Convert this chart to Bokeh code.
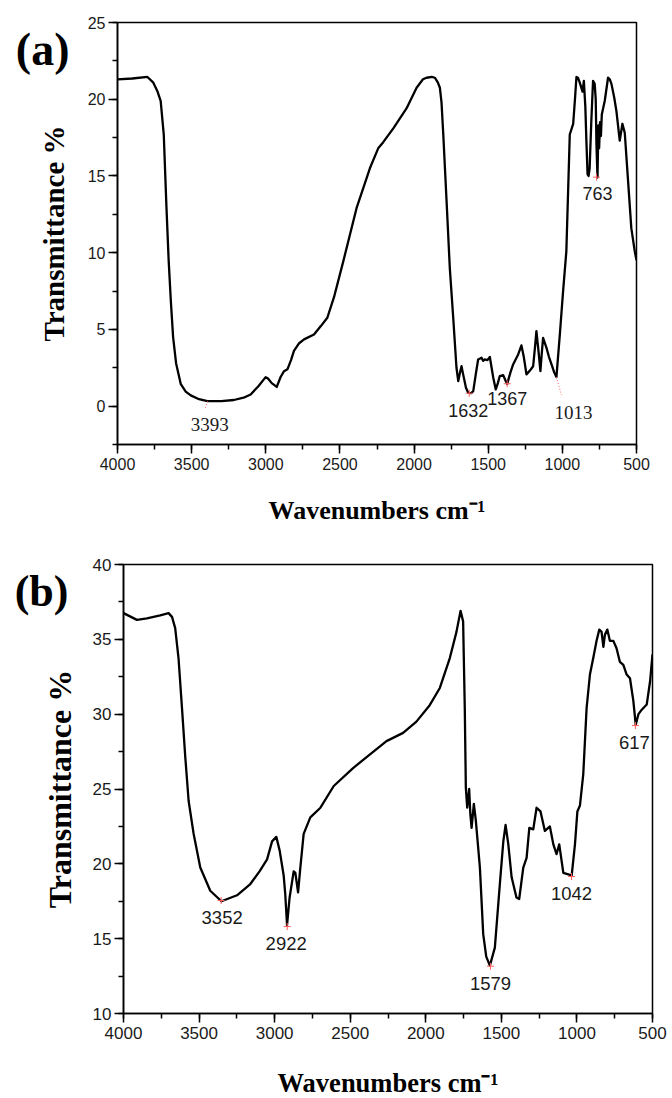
from bokeh.plotting import figure
from bokeh.layouts import column, row
from bokeh.models import Range1d, SingleIntervalTicker, FixedTicker, LinearAxis, Label
from bokeh.embed import file_html
from bokeh.resources import INLINE

# ---------------- data: panel (a) ----------------
wn_a = [4000, 3900, 3798, 3760, 3730, 3709, 3688, 3670, 3655, 3640, 3625, 3605, 3573, 3540,
        3506, 3450, 3394, 3300, 3215, 3150, 3102, 3050, 3001, 2985, 2960, 2926, 2900, 2877,
        2854, 2830, 2810, 2775, 2742, 2675, 2630, 2585, 2540, 2477, 2388, 2298, 2242, 2208,
        2140, 2051, 1983, 1940, 1916, 1880, 1860, 1840, 1826, 1815, 1803, 1781, 1759, 1736,
        1714, 1702, 1690, 1680, 1669, 1650, 1635, 1615, 1601, 1585, 1568, 1555, 1545, 1535,
        1523, 1505, 1489, 1466, 1449, 1435, 1422, 1399, 1385, 1372, 1350, 1332, 1298, 1276,
        1260, 1242, 1220, 1197, 1185, 1175, 1160, 1148, 1140, 1130, 1107, 1090, 1073, 1055,
        1040, 1017, 995, 973, 950, 927, 915, 905, 895, 883, 864, 855, 845, 838, 830, 823,
        816, 805, 793, 782, 775, 770, 763, 757, 752, 746, 740, 734, 714, 692, 680, 669, 650,
        635, 613, 595, 579, 557, 535, 512, 500]
T_a = [21.3, 21.35, 21.45, 21.1, 20.5, 19.9, 17.7, 13.0, 9.5, 6.8, 4.5, 2.8, 1.43, 0.95,
       0.7, 0.45, 0.33, 0.33, 0.4, 0.55, 0.76, 1.3, 1.89, 1.8, 1.5, 1.25, 1.9, 2.28,
       2.4, 3.0, 3.6, 4.1, 4.35, 4.67, 5.2, 5.76, 7.1, 9.45, 12.9, 15.5, 16.8, 17.2,
       18.1, 19.4, 20.75, 21.3, 21.4, 21.45, 21.4, 21.1, 20.75, 19.8, 17.7, 13.4, 9.0, 5.76,
       2.5, 1.63, 2.2, 2.6, 2.07, 1.2, 0.87, 0.85, 0.98, 2.0, 3.04, 3.1, 3.15, 2.95,
       3.04, 3.0, 3.2, 1.85, 1.09, 1.5, 1.96, 2.02, 1.7, 1.45, 2.2, 2.72, 3.37, 3.96,
       3.2, 2.07, 2.3, 2.6, 3.8, 4.89, 3.5, 2.28, 3.3, 4.45, 3.8, 3.2, 2.72, 2.2,
       1.89, 4.67, 7.5, 10.1, 17.7, 18.4, 20.0, 21.45, 21.4, 21.1, 20.5, 21.2, 19.5, 17.3, 15.1, 15.0,
       15.5, 18.5, 21.2, 21.0, 20.0, 17.0, 14.9, 18.3, 16.8, 18.5, 17.6, 19.0, 19.9, 21.4, 21.3, 21.0, 20.1,
       19.2, 17.3, 18.4, 17.8, 14.7, 11.6, 10.1, 9.5]

peak_lbl_a = ["3393", "1632", "1367", "1013", "763"]
peak_wn_a = [3391, 1628, 1372, 1040, 770]
peak_T_a = [0.32, 0.84, 1.46, 1.89, 14.92]

# ---------------- data: panel (b) ----------------
wn_b = [4000, 3911, 3845, 3757, 3702, 3679, 3658, 3636, 3613, 3591, 3569, 3536, 3492, 3426,
        3352, 3249, 3161, 3100, 3050, 3017, 2989, 2967, 2940, 2930, 2918, 2901, 2874, 2863,
        2845, 2830, 2808, 2764, 2697, 2609, 2481, 2371, 2260, 2150, 2062, 1974, 1907, 1841,
        1797, 1770, 1753, 1742, 1735, 1726, 1713, 1705, 1697, 1682, 1669, 1642, 1620, 1600,
        1576, 1543, 1510, 1487, 1472, 1454, 1432, 1400, 1382, 1355, 1333, 1315, 1289, 1267,
        1241, 1212, 1179, 1156, 1135, 1117, 1090, 1057, 1035, 1013, 997, 980, 958, 936, 914,
        892, 870, 852, 837, 825, 815, 799, 782, 759, 738, 716, 693, 671, 649, 627, 611, 593,
        571, 538, 516, 500]
T_b = [36.75, 36.3, 36.4, 36.6, 36.75, 36.5, 35.75, 33.75, 30.4, 27.1, 24.2, 22.0, 19.75, 18.2,
       17.5, 17.9, 18.65, 19.5, 20.3, 21.5, 21.8, 20.9, 19.2, 18.0, 15.9, 17.75, 19.5, 19.4,
       18.1, 19.75, 22.0, 23.1, 23.75, 25.2, 26.4, 27.3, 28.2, 28.75, 29.5, 30.6, 31.75, 33.75,
       35.5, 36.9, 36.2, 30.4, 25.1, 23.75, 25.0, 23.3, 22.4, 24.0, 22.9, 19.75, 15.3, 13.8,
       13.2, 14.4, 18.65, 21.5, 22.6, 21.3, 19.1, 17.75, 17.65, 19.75, 20.4, 22.4, 22.3, 23.75,
       23.5, 22.2, 22.5, 21.3, 20.65, 21.3, 19.4, 19.3, 19.2, 21.3, 23.5, 23.9, 26.0, 30.4, 32.65,
       33.75, 34.9, 35.65, 35.5, 34.5, 35.3, 35.65, 34.9, 34.9, 34.4, 33.5, 33.3, 32.65, 32.4, 30.9, 29.3, 30.0,
       30.3, 30.65, 32.2, 34.0]

peak_lbl_b = ["3352", "2922", "1579", "1042", "617"]
peak_wn_b = [3354, 2917, 1572, 1036, 613]
peak_T_b = [17.55, 15.81, 13.16, 19.15, 29.24]

x_ticks_interval = 500

SERIF = "Liberation Serif"
SANS = "Liberation Sans"
RED = "#ff5f5f"


def make_panel(xr, yr, y_interval, fw, fh, bl, br, bt, bb, tick_px, ylab_px, ystand, xstand,
               xlab_px, tag, tag_at, tag_px, tag_standoff):
    p = figure(frame_width=fw, frame_height=fh, min_border_left=bl, min_border_right=br,
               min_border_top=bt, min_border_bottom=bb,
               x_range=Range1d(*xr), y_range=Range1d(*yr),
               output_backend="svg", toolbar_location=None)
    p.grid.visible = False
    p.outline_line_color = "black"
    p.outline_line_width = 1.5
    p.background_fill_color = "white"
    p.border_fill_color = "white"
    p.xaxis.ticker = SingleIntervalTicker(interval=x_ticks_interval, num_minor_ticks=2)
    p.yaxis.ticker = SingleIntervalTicker(interval=y_interval, num_minor_ticks=2)
    for ax in (p.xaxis, p.yaxis):
        ax.axis_line_width = 1.6
        ax.axis_line_color = "black"
        ax.major_tick_in = 0
        ax.major_tick_out = 9
        ax.minor_tick_in = 0
        ax.minor_tick_out = 5
        ax.major_tick_line_width = 1.5
        ax.minor_tick_line_width = 1.5
        ax.major_label_text_font = SANS
        ax.major_label_text_font_size = tick_px
        ax.major_label_text_color = "#1a1a1a"
        ax.axis_label_text_font = SERIF
        ax.axis_label_text_font_style = "bold"
        ax.axis_label_text_color = "black"
    p.xaxis.major_label_standoff = 4
    p.yaxis.major_label_standoff = 3
    p.xaxis.axis_label = "Wavenumbers cm\u207b\u00b9"
    p.xaxis.axis_label_text_font_size = xlab_px
    p.xaxis.axis_label_standoff = xstand
    p.yaxis.axis_label = "Transmittance %"
    p.yaxis.axis_label_text_font_size = ylab_px
    p.yaxis.axis_label_standoff = ystand

    # panel tag "(a)"/"(b)" drawn as the single label of an outer, line-less axis
    tag_axis = LinearAxis(ticker=FixedTicker(ticks=[tag_at], minor_ticks=[]),
                          major_label_overrides={tag_at: tag},
                          axis_line_color=None, major_tick_line_color=None,
                          minor_tick_line_color=None, major_tick_out=0, major_tick_in=0,
                          minor_tick_out=0, minor_tick_in=0,
                          major_label_standoff=tag_standoff,
                          major_label_orientation="horizontal",
                          major_label_text_font=SERIF, major_label_text_font_style="bold",
                          major_label_text_font_size=tag_px, major_label_text_color="black")
    p.add_layout(tag_axis, "left")
    return p


def add_text(p, x, y, text, font, size, xo=0, yo=0):
    p.add_layout(Label(x=x, y=y, text=text, text_font=font, text_font_size=size,
                       text_align="center", text_baseline="middle", text_color="#1a1a1a",
                       x_offset=xo, y_offset=yo))


# ---------------- panel (a) ----------------
FW_A, FH_A = 519, 422
pa = make_panel((4000, 500), (-2.5, 25), 5, FW_A, FH_A, 117, 36, 22, 105, "16px",
                "29px", 15, 23, "26px", "(a)", 23.25, "46px", -35)
pa.line(wn_a, T_a, line_color="black", line_width=2.3, line_join="round")

kx_a = 3500 / FW_A      # data units per pixel (x)
ky_a = 27.5 / FH_A      # data units per pixel (y)

plus_idx_a = [1, 2, 4]
pa.scatter([peak_wn_a[i] for i in plus_idx_a], [peak_T_a[i] for i in plus_idx_a],
           marker="cross", size=7, line_color=RED, line_width=1)
lead_a = {0: (-3, 8), 3: (5, 18)}
for i, (dx, dy) in lead_a.items():
    pa.segment(x0=[peak_wn_a[i]], y0=[peak_T_a[i]],
               x1=[peak_wn_a[i] - dx * kx_a], y1=[peak_T_a[i] - dy * ky_a],
               line_color=RED, line_width=1, line_dash="1 2")

lbl_off_a = [(2, -23), (-1, -17), (0, -15), (17, -35), (1, -16)]
lbl_font_a = [SERIF, SANS, SANS, SERIF, SANS]
lbl_size_a = ["19px", "18px", "18px", "19px", "18px"]
for i, t in enumerate(peak_lbl_a):
    add_text(pa, peak_wn_a[i], peak_T_a[i], t, lbl_font_a[i], lbl_size_a[i],
             xo=lbl_off_a[i][0], yo=lbl_off_a[i][1])

# ---------------- panel (b) ----------------
FW_B, FH_B = 529, 449
pb = make_panel((4000, 500), (10, 40), 5, FW_B, FH_B, 123, 20, 15, 85, "17px",
                "32px", 12, 26, "26.5px", "(b)", 38.2, "44px", -30)
pb.line(wn_b, T_b, line_color="black", line_width=2.3, line_join="round")

pb.scatter(peak_wn_b, peak_T_b, marker="cross", size=7, line_color=RED, line_width=1)
lbl_off_b = [(1, -17), (-1, -17), (0, -17), (0, -17), (-1, -17)]
for i, t in enumerate(peak_lbl_b):
    add_text(pb, peak_wn_b[i], peak_T_b[i], t, SANS, "18.5px",
             xo=lbl_off_b[i][0], yo=lbl_off_b[i][1])

layout = column(row(pa), row(pb), spacing=0)
open("out.html", "w").write(file_html(layout, INLINE))
